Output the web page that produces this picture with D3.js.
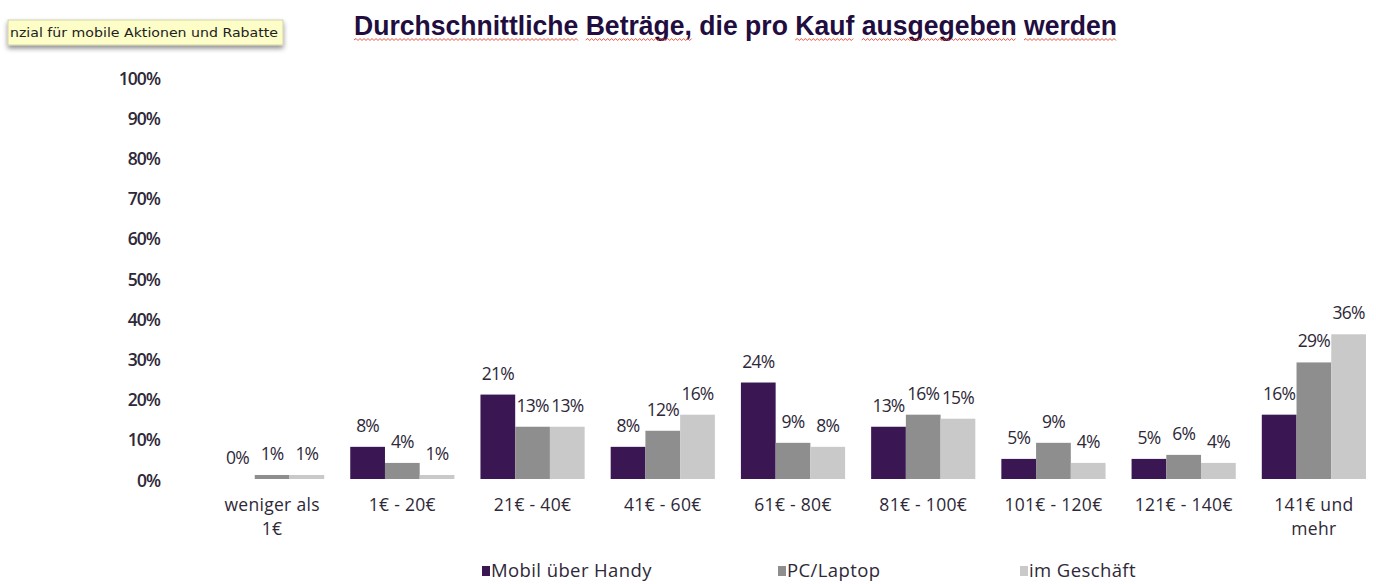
<!DOCTYPE html>
<html><head><meta charset="utf-8">
<script src="https://cdn.jsdelivr.net/npm/d3@7"></script>
<style>
html,body{margin:0;padding:0;background:#fff;}
svg{display:block;}
</style></head>
<body>
<svg id="chart" width="1376" height="584"></svg>
<script>
const categories = [["weniger als","1€"],["1€ - 20€"],["21€ - 40€"],["41€ - 60€"],["61€ - 80€"],["81€ - 100€"],["101€ - 120€"],["121€ - 140€"],["141€ und","mehr"]];
const seriesNames = ["Mobil über Handy","PC/Laptop","im Geschäft"];
const mobil = [0, 8, 21, 8, 24, 13, 5, 5, 16];
const pcLaptop = [1, 4, 13, 12, 9, 16, 9, 6, 29];
const geschaeft = [1, 1, 13, 16, 8, 15, 4, 4, 36];
const yTicks = [0,10,20,30,40,50,60,70,80,90,100];
const titleWords = ["Durchschnittliche","Beträge,","die","pro","Kauf","ausgegeben","werden"];
const underlined = [true,true,false,false,true,true,true];
const tooltipText = "nzial für mobile Aktionen und Rabatte";

const colors = ["#3a1753","#8e8e8e","#c9c9c9"];
const textCol = "#2e2838";
const font = "'Open Sans', 'Noto Sans', sans-serif";
const series = [mobil, pcLaptop, geschaeft];

const svg = d3.select("#chart");
const catKeys = categories.map(c => c.join(" "));
const x0 = d3.scaleBand().domain(catKeys).range([207, 1379]).paddingInner(0.2).paddingOuter(0.1);
const x1 = d3.scaleBand().domain(seriesNames).range([0, x0.bandwidth()]);
const y = d3.scaleLinear().domain([0, 100]).range([479, 77]);

// Y axis
const yAxis = d3.axisLeft(y).tickValues(yTicks).tickFormat(d => d + "%").tickSize(0).tickPadding(0);
const ya = svg.append("g").attr("transform", "translate(160,1)").call(yAxis);
ya.select(".domain").remove();
ya.selectAll("text").attr("font-family", font).attr("font-size", 17.5).attr("font-weight", 600)
  .attr("fill", textCol).attr("dy", "0.35em").attr("letter-spacing", -1);

// bars
const groups = svg.append("g").selectAll("g").data(catKeys).join("g")
  .attr("transform", d => `translate(${x0(d)},0)`);
groups.each(function(cat, ci) {
  const g = d3.select(this);
  seriesNames.forEach((s, si) => {
    const v = series[si][ci];
    g.append("rect").attr("x", x1(s)).attr("width", x1.bandwidth())
      .attr("y", y(v)).attr("height", y(0) - y(v)).attr("fill", colors[si]);
    g.append("text").attr("x", x1(s) + x1.bandwidth() / 2).attr("y", y(v) - 15)
      .attr("text-anchor", "middle").attr("font-family", font).attr("font-size", 17.5)
      .attr("fill", textCol).attr("letter-spacing", -0.8).text(v + "%");
  });
});

// x axis labels
const xa = svg.append("g");
categories.forEach((c, ci) => {
  const cx = x0(catKeys[ci]) + x0.bandwidth() / 2;
  c.forEach((line, li) => {
    xa.append("text").attr("x", cx).attr("y", 511 + li * 23.5)
      .attr("text-anchor", "middle").attr("font-family", font).attr("font-size", 17.5)
      .attr("letter-spacing", 0.3).attr("fill", textCol).text(line);
  });
});

// legend
const legendX = [482, 778, 1020];
seriesNames.forEach((s, si) => {
  svg.append("rect").attr("x", legendX[si]).attr("y", 566).attr("width", 8).attr("height", 10).attr("fill", colors[si]);
  svg.append("text").attr("x", legendX[si] + 9).attr("y", 577).attr("font-family", font)
    .attr("font-size", 18.5).attr("letter-spacing", 0.4).attr("fill", textCol).text(s);
});

// title
const title = svg.append("text").attr("x", 354).attr("y", 35)
  .attr("font-family", "'Liberation Sans', Arial, sans-serif").attr("font-weight", "bold")
  .attr("font-size", 28).attr("fill", "#220d3f");
title.text(titleWords.join(" "));
const tn = title.node();
title.attr("textLength", 763).attr("lengthAdjust", "spacingAndGlyphs");
let idx = 0;
const squig = svg.append("g");
titleWords.forEach((w, wi) => {
  const start = idx, end = idx + w.length - 1;
  idx += w.length + 1;
  if (!underlined[wi]) return;
  const xs = tn.getStartPositionOfChar(start).x;
  const xe = tn.getEndPositionOfChar(end).x;
  let d = `M${xs},40`;
  let up = true;
  for (let xx = xs + 2; xx <= xe; xx += 2) { d += `L${xx},${up ? 38.5 : 40.5}`; up = !up; }
  squig.append("path").attr("d", d).attr("fill", "none").attr("stroke", "#e8402a").attr("stroke-width", 0.9);
});

// tooltip
const defs = svg.append("defs");
const f = defs.append("filter").attr("id", "sh").attr("x", "-10%").attr("y", "-50%").attr("width", "120%").attr("height", "250%");
f.append("feDropShadow").attr("dx", 0).attr("dy", 3).attr("stdDeviation", 2.5).attr("flood-color", "#000").attr("flood-opacity", 0.45);
svg.append("rect").attr("x", 8).attr("y", 20).attr("width", 275).attr("height", 25)
  .attr("fill", "#fdfdc8").attr("stroke", "#c8c8a0").attr("stroke-width", 0.8).attr("filter", "url(#sh)");
svg.append("text").attr("x", 10).attr("y", 37).attr("font-family", "'DejaVu Sans', sans-serif")
  .attr("font-size", 11.5).attr("fill", "#222").attr("textLength", 268).attr("lengthAdjust", "spacingAndGlyphs").text(tooltipText);
</script>
</body></html>
